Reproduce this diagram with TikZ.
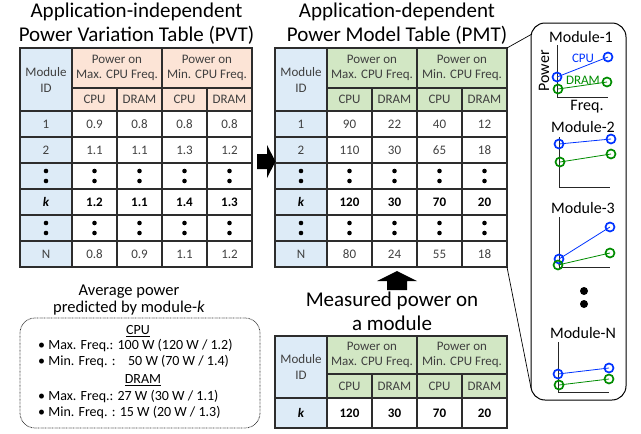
\documentclass[tikz,border=0pt]{standalone}
\usepackage{fontspec}
\setmainfont{Carlito}
\definecolor{idblue}{RGB}{221,235,247}
\definecolor{peach}{RGB}{252,228,214}
\definecolor{lgreen}{RGB}{210,231,196}
\definecolor{txtgray}{RGB}{64,64,64}
\definecolor{gridc}{RGB}{45,45,45}
\definecolor{cpublue}{RGB}{0,51,255}
\definecolor{dramgreen}{RGB}{0,140,0}
\tikzset{
  grid/.style={draw=gridc, line width=1.1pt},
  hcell/.style={font=\fontsize{13}{15}\selectfont, text=txtgray, align=center, inner sep=0pt},
  dcell/.style={font=\fontsize{13}{15}\selectfont, text=txtgray, inner sep=0pt},
  kcell/.style={font=\fontsize{13}{15}\selectfont\bfseries, text=black, inner sep=0pt},
  tdot/.style={circle, fill=black, minimum size=4.6pt, inner sep=0pt},
  ttl/.style={font=\fontsize{21}{24}\selectfont, align=center, inner sep=0pt},
  boxt/.style={font=\fontsize{14}{16}\selectfont, inner sep=0pt},
  plab/.style={font=\fontsize{16}{18}\selectfont, inner sep=0pt},
  slab/.style={font=\fontsize{13}{15}\selectfont, inner sep=0pt},
  cpuc/.style={circle, draw=cpublue, line width=1.7pt, minimum size=9pt, inner sep=0pt},
  dramc/.style={circle, draw=dramgreen, line width=1.7pt, minimum size=9pt, inner sep=0pt},
  cpul/.style={draw=cpublue, line width=0.8pt},
  draml/.style={draw=dramgreen, line width=0.8pt},
  axis/.style={draw=black!85, line width=1pt},
  bigdot/.style={circle, fill=black, minimum size=8pt, inner sep=0pt},
}
\def\rowh{26}
% #1 prefix, #2 header fill, #3 header break, #4 header end, #5 bottom
\newcommand\tblframe[5]{%
  \fill[idblue] (0,0) rectangle (52,#5);
  \fill[#2] (52,0) rectangle (232,#4);
  \draw[grid] (52,0) -- (52,#5);
  \draw[grid] (142,0) -- (142,#5);
  \draw[grid] (52,#3) -- (232,#3);
  \draw[grid] (0,#4) -- (232,#4);
  \draw[grid] (97,#3) -- (97,#5);
  \draw[grid] (187,#3) -- (187,#5);
  \coordinate (#1-tr) at (232,0);
  \coordinate (#1-br) at (232,#5);
  \node[hcell, font=\fontsize{13}{16}\selectfont] (#1-id) at (26,{(#4)/2}) {Module\\ID};
  \node[hcell] (#1-max) at (97,{(#3)/2}) {Power on\\Max. CPU Freq.};
  \node[hcell] (#1-min) at (187,{(#3)/2}) {Power on\\Min. CPU Freq.};
  \node[hcell] (#1-h1) at (74.5,{(#3+#4)/2}) {CPU};
  \node[hcell] (#1-h2) at (119.5,{(#3+#4)/2}) {DRAM};
  \node[hcell] (#1-h3) at (164.5,{(#3+#4)/2}) {CPU};
  \node[hcell] (#1-h4) at (209.5,{(#3+#4)/2}) {DRAM};
}
\newcommand\tblbox[1]{\draw[grid] (0,0) rectangle (232,#1);}
% #1 prefix, #2 index, #3 row top, #4 style, #5..#9 texts
\newcommand\tblrow[9]{%
  \draw[grid] (0,{#3}) -- (232,{#3});
  \node[#4] (#1-#2-id) at (26,{#3+\rowh/2}) {#5};
  \node[#4] (#1-#2-a) at (74.5,{#3+\rowh/2}) {#6};
  \node[#4] (#1-#2-b) at (119.5,{#3+\rowh/2}) {#7};
  \node[#4] (#1-#2-c) at (164.5,{#3+\rowh/2}) {#8};
  \node[#4] (#1-#2-d) at (209.5,{#3+\rowh/2}) {#9};
}
% vertical-dots row: #1 prefix, #2 index, #3 row top
\newcommand\dotrow[3]{%
  \draw[grid] (0,{#3}) -- (232,{#3});
  \foreach \cx/\cn in {26/id,74.5/a,119.5/b,164.5/c,209.5/d}{
    \node[tdot] (#1-#2-\cn-u) at (\cx,{#3+8}) {};
    \node[tdot] (#1-#2-\cn-l) at (\cx,{#3+18}) {};
  }
}
\begin{document}
\begin{tikzpicture}[x=1pt,y=-1pt]
\useasboundingbox (0,0) rectangle (641,434);

% titles
\node[ttl] (t-pvt) at (136.5,24) {Application-independent\\Power Variation Table (PVT)};
\node[ttl] (t-pmt) at (397,24) {Application-dependent\\Power Model Table (PMT)};
\node[ttl] (t-mes) at (392,311) {Measured power on\\a module};

% PVT
\begin{scope}[shift={(20,48)}]
  \tblframe{pvt}{peach}{40}{63}{219}
  \tblrow{pvt}{1}{63}{dcell}{1}{0.9}{0.8}{0.8}{0.8}
  \tblrow{pvt}{2}{89}{dcell}{2}{1.1}{1.1}{1.3}{1.2}
  \dotrow{pvt}{3}{115}
  \tblrow{pvt}{4}{141}{kcell}{\textit{k}}{1.2}{1.1}{1.4}{1.3}
  \dotrow{pvt}{5}{167}
  \tblrow{pvt}{6}{193}{dcell}{N}{0.8}{0.9}{1.1}{1.2}
  \tblbox{219}
\end{scope}

% PMT
\begin{scope}[shift={(275,48)}]
  \tblframe{pmt}{lgreen}{40}{63}{219}
  \tblrow{pmt}{1}{63}{dcell}{1}{90}{22}{40}{12}
  \tblrow{pmt}{2}{89}{dcell}{2}{110}{30}{65}{18}
  \dotrow{pmt}{3}{115}
  \tblrow{pmt}{4}{141}{kcell}{\textit{k}}{120}{30}{70}{20}
  \dotrow{pmt}{5}{167}
  \tblrow{pmt}{6}{193}{dcell}{N}{80}{24}{55}{18}
  \tblbox{219}
\end{scope}

% Measured
\begin{scope}[shift={(275,336)}]
  \tblframe{mes}{lgreen}{38}{62}{92}
  \def\rowh{30}
  \tblrow{mes}{1}{62}{kcell}{\textit{k}}{120}{30}{70}{20}
  \tblbox{92}
\end{scope}

% block arrows
\fill (257,154) -- (267,154) -- (267,145) -- (275.5,161.5) -- (267,178) -- (267,169) -- (257,169) -- cycle;
\fill (387,290) -- (387,281) -- (377,281) -- (397,271) -- (417,281) -- (407,281) -- (407,290) -- cycle;

% average power box
\node[font=\fontsize{16.5}{17}\selectfont, align=center, inner sep=0pt] (avgt) at (129,300) {Average power\\predicted by module-\textit{k}};
\node[draw=black!80, line width=0.8pt, dash pattern=on 0.7pt off 0.7pt, rounded corners=15pt,
      minimum width=240pt, minimum height=110pt, inner sep=0pt] (avgbox) at (140,373) {};
\node[boxt] (bcpu) at (138,331) {\underline{CPU}};
\node[boxt, anchor=west] (b1) at (38,346) {• Max. Freq.: 100 W (120 W / 1.2)};
\node[boxt, anchor=west] (b2) at (38,362) {• Min. Freq. :\hspace{0.9em}50 W (70 W / 1.4)};
\node[boxt] (bdram) at (143,380) {\underline{DRAM}};
\node[boxt, anchor=west] (b3) at (38,397) {• Max. Freq.: 27 W (30 W / 1.1)};
\node[boxt, anchor=west] (b4) at (38,413) {• Min. Freq. : 15 W (20 W / 1.3)};

% right panel
\node[draw=black, line width=1pt, rounded corners=14pt, minimum width=95pt, minimum height=377pt, inner sep=0pt] (panel) at (578.5,211.5) {};
\coordinate (co1) at (532,34);
\coordinate (co2) at (531,388);
\draw[black, line width=0.7pt] (pmt-tr) -- (co1);
\draw[black, line width=0.7pt] (pmt-br) -- (co2);

% Module-1
\node[plab] (mt1) at (581,37) {Module-1};
\coordinate (a1t) at (557,45); \coordinate (a1o) at (557,97); \coordinate (a1r) at (608,97);
\draw[axis] (a1t) -- (a1o) -- (a1r);
\node[plab, rotate=90] (pwr) at (544,71) {Power};
\node[plab] (frq) at (587,107) {Freq.};
\node[cpuc] (m1cl) at (557,77) {};
\node[cpuc] (m1ch) at (608,57) {};
\node[dramc] (m1dl) at (558,89) {};
\node[dramc] (m1dh) at (607,82) {};
\draw[cpul] (m1cl.center) -- (m1ch.center);
\draw[draml] (m1dl.center) -- (m1dh.center);
\node[slab, text=cpublue] (lcpu) at (583,58) {CPU};
\node[slab, text=dramgreen] (ldram) at (583,80) {DRAM};

% Module-2
\node[plab] (mt2) at (583,127) {Module-2};
\coordinate (a2t) at (559,137); \coordinate (a2o) at (559,187); \coordinate (a2r) at (610,187);
\draw[axis] (a2t) -- (a2o) -- (a2r);
\node[cpuc] (m2cl) at (559,144) {};
\node[cpuc] (m2ch) at (611,139) {};
\node[dramc] (m2dl) at (560,162) {};
\node[dramc] (m2dh) at (611,154) {};
\draw[cpul] (m2cl.center) -- (m2ch.center);
\draw[draml] (m2dl.center) -- (m2dh.center);

% Module-3
\node[plab] (mt3) at (583,208) {Module-3};
\coordinate (a3t) at (559,217); \coordinate (a3o) at (559,267); \coordinate (a3r) at (610,267);
\draw[axis] (a3t) -- (a3o) -- (a3r);
\node[cpuc] (m3cl) at (559,259) {};
\node[cpuc] (m3ch) at (610,227) {};
\node[dramc] (m3dl) at (558,265) {};
\node[dramc] (m3dh) at (610,253) {};
\draw[cpul] (m3cl.center) -- (m3ch.center);
\draw[draml] (m3dl.center) -- (m3dh.center);

% dots
\node[bigdot] (pd1) at (584,291) {};
\node[bigdot] (pd2) at (584,304) {};

% Module-N
\node[plab] (mtn) at (583,333) {Module-N};
\coordinate (ant) at (558,342); \coordinate (ano) at (558,392); \coordinate (anr) at (609,392);
\draw[axis] (ant) -- (ano) -- (anr);
\node[cpuc] (mncl) at (558,374) {};
\node[cpuc] (mnch) at (609,368) {};
\node[dramc] (mndl) at (559,385) {};
\node[dramc] (mndh) at (609,379) {};
\draw[cpul] (mncl.center) -- (mnch.center);
\draw[draml] (mndl.center) -- (mndh.center);
\end{tikzpicture}
\end{document}
